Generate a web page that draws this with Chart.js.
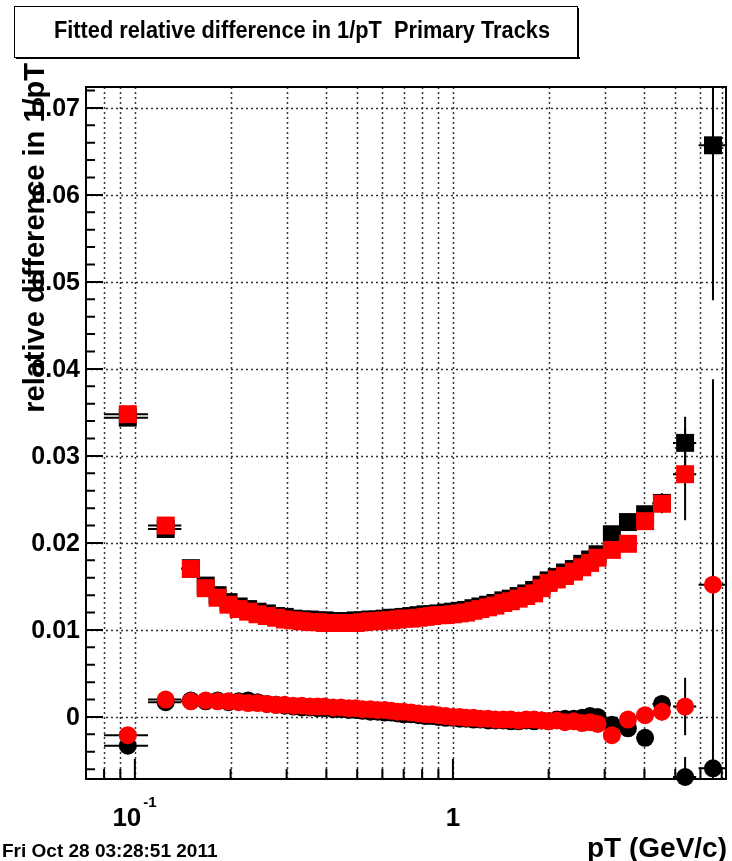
<!DOCTYPE html>
<html>
<head>
<meta charset="utf-8">
<title>Fitted relative difference in 1/pT</title>
<script src="https://cdn.jsdelivr.net/npm/chart.js@4.4.1/dist/chart.umd.min.js"></script>
<style>
    html, body { margin: 0; padding: 0; background: #fff; }
    #wrap { width: 732px; height: 861px; }
</style>
</head>
<body>
<div id="wrap"><canvas id="relDiffChart" width="732" height="861"></canvas></div>
<script>
// pT bin centres (GeV/c) and bin half widths
const ptBins = [
    0.095, 0.125, 0.15, 0.167, 0.182, 0.197, 0.212, 0.227, 0.243, 0.26,
    0.278, 0.296, 0.315, 0.335, 0.355, 0.375, 0.395, 0.42, 0.445, 0.47,
    0.495, 0.52, 0.55, 0.58, 0.61, 0.64, 0.67, 0.70, 0.74, 0.78,
    0.82, 0.86, 0.90, 0.95, 1.00, 1.05, 1.10, 1.16, 1.22, 1.29,
    1.36, 1.44, 1.52, 1.61, 1.70, 1.80, 1.90, 2.00, 2.12, 2.25,
    2.40, 2.55, 2.70, 2.85, 3.16, 3.55, 4.02, 4.54, 5.37, 6.57,
];
const ptHalfWidth = [
    0.015, 0.015, 0.01, 0.008, 0.0075, 0.0075, 0.0075, 0.0075, 0.0085, 0.009,
    0.009, 0.0095, 0.0095, 0.01, 0.01, 0.01, 0.0125, 0.0125, 0.0125, 0.0125,
    0.0125, 0.015, 0.015, 0.015, 0.015, 0.015, 0.015, 0.02, 0.02, 0.02,
    0.02, 0.02, 0.025, 0.025, 0.025, 0.025, 0.03, 0.03, 0.035, 0.035,
    0.04, 0.04, 0.045, 0.045, 0.05, 0.05, 0.05, 0.06, 0.065, 0.075,
    0.075, 0.075, 0.075, 0.1, 0.18, 0.2, 0.25, 0.3, 0.45, 0.65,
];

// fitted mean of the relative difference (squares)
const meanBlack = [
    0.0344, 0.0216, 0.0171, 0.0151, 0.0140, 0.0132, 0.0127, 0.0124, 0.0121, 0.0119,
    0.0116, 0.0115, 0.0113, 0.0112, 0.0112, 0.0111, 0.0111, 0.0110, 0.0110, 0.0110,
    0.0111, 0.0111, 0.0112, 0.0112, 0.0113, 0.0114, 0.0114, 0.0115, 0.0116, 0.0117,
    0.0118, 0.0118, 0.0119, 0.0120, 0.0121, 0.0122, 0.0123, 0.0125, 0.0127, 0.0129,
    0.0131, 0.0134, 0.0136, 0.0139, 0.0142, 0.0146, 0.0152, 0.0157, 0.0161, 0.0166,
    0.0170, 0.0176, 0.0181, 0.0187, 0.0210, 0.0224, 0.0233, 0.0246, 0.0315, 0.0657,
];
const meanBlackErr = [
    0.0003, 0.0002, 0.0002, 0.0001, 0.0001, 0.0001, 0.0001, 0.0001, 0.0001, 0.0001,
    0.0001, 0.0001, 0.0001, 0.0001, 0.0001, 0.0001, 0.0001, 0.0001, 0.0001, 0.0001,
    0.0001, 0.0001, 0.0001, 0.0001, 0.0001, 0.0001, 0.0001, 0.0001, 0.0001, 0.0001,
    0.0001, 0.0001, 0.0001, 0.0001, 0.0001, 0.0001, 0.0001, 0.0002, 0.0002, 0.0002,
    0.0002, 0.0002, 0.0002, 0.0002, 0.0003, 0.0003, 0.0003, 0.0003, 0.0004, 0.0004,
    0.0004, 0.0005, 0.0005, 0.0005, 0.0006, 0.0008, 0.0009, 0.0011, 0.0030, 0.0178,
];
const meanRed = [
    0.0348, 0.0220, 0.0170, 0.0148, 0.0137, 0.0129, 0.0124, 0.0121, 0.0118, 0.0116,
    0.0114, 0.0112, 0.0111, 0.0110, 0.0109, 0.0109, 0.0108, 0.0108, 0.0108, 0.0108,
    0.0108, 0.0109, 0.0110, 0.0110, 0.0111, 0.0111, 0.0112, 0.0113, 0.0113, 0.0114,
    0.0115, 0.0116, 0.0117, 0.0117, 0.0118, 0.0119, 0.0120, 0.0122, 0.0124, 0.0126,
    0.0128, 0.0131, 0.0133, 0.0136, 0.0139, 0.0142, 0.0148, 0.0154, 0.0158, 0.0162,
    0.0167, 0.0172, 0.0177, 0.0183, 0.0192, 0.0199, 0.0225, 0.0245, 0.0279, null,
];
const meanRedErr = [
    0.0003, 0.0002, 0.0002, 0.0001, 0.0001, 0.0001, 0.0001, 0.0001, 0.0001, 0.0001,
    0.0001, 0.0001, 0.0001, 0.0001, 0.0001, 0.0001, 0.0001, 0.0001, 0.0001, 0.0001,
    0.0001, 0.0001, 0.0001, 0.0001, 0.0001, 0.0001, 0.0001, 0.0001, 0.0001, 0.0001,
    0.0001, 0.0001, 0.0001, 0.0001, 0.0001, 0.0001, 0.0001, 0.0002, 0.0002, 0.0002,
    0.0002, 0.0002, 0.0002, 0.0002, 0.0003, 0.0003, 0.0003, 0.0003, 0.0004, 0.0004,
    0.0004, 0.0005, 0.0005, 0.0005, 0.0006, 0.0008, 0.0009, 0.0011, 0.0053, 0,
];

// fitted offset (circles)
const offsetBlack = [
    -0.0033, 0.0017, 0.0019, 0.0018, 0.0019, 0.0017, 0.0018, 0.0019, 0.0017, 0.0015,
    0.0014, 0.0013, 0.0012, 0.0011, 0.0011, 0.0010, 0.0010, 0.0009, 0.0009, 0.0008,
    0.0008, 0.0007, 0.0006, 0.0006, 0.0005, 0.0005, 0.0004, 0.0003, 0.0003, 0.0002,
    0.0001, 0.0001, 0.0000, -0.0001, -0.0001, -0.0002, -0.0002, -0.0003, -0.0003, -0.0004,
    -0.0004, -0.0004, -0.0005, -0.0005, -0.0004, -0.0005, -0.0004, -0.0005, -0.0003, -0.0002,
    -0.0002, -0.0001, 0.0001, 0.0000, -0.0009, -0.0013, -0.0024, 0.0015, -0.0069, -0.0059,
];
const offsetBlackErr = [
    0.0002, 0.0001, 0.0001, 0.0001, 0.0001, 0.0001, 0.0001, 0.0001, 0.0001, 0.0001,
    0.0001, 0.0001, 0.0001, 0.0001, 0.0001, 0.0001, 0.0001, 0.0001, 0.0001, 0.0001,
    0.0001, 0.0001, 0.0001, 0.0001, 0.0001, 0.0001, 0.0001, 0.0001, 0.0001, 0.0001,
    0.0001, 0.0001, 0.0001, 0.0001, 0.0001, 0.0001, 0.0001, 0.0001, 0.0001, 0.0001,
    0.0001, 0.0001, 0.0001, 0.0001, 0.0002, 0.0002, 0.0002, 0.0002, 0.0002, 0.0002,
    0.0002, 0.0003, 0.0003, 0.0003, 0.0004, 0.0005, 0.0008, 0.0010, 0.0023, 0.0012,
];
const offsetRed = [
    -0.0021, 0.0020, 0.0018, 0.0019, 0.0018, 0.0018, 0.0017, 0.0016, 0.0016, 0.0015,
    0.0014, 0.0014, 0.0013, 0.0013, 0.0012, 0.0012, 0.0012, 0.0011, 0.0011, 0.0010,
    0.0010, 0.0009, 0.0009, 0.0008, 0.0008, 0.0007, 0.0006, 0.0006, 0.0005, 0.0004,
    0.0003, 0.0003, 0.0002, 0.0001, 0.0000, 0.0000, -0.0001, -0.0001, -0.0002, -0.0002,
    -0.0003, -0.0003, -0.0003, -0.0004, -0.0003, -0.0003, -0.0004, -0.0005, -0.0004, -0.0006,
    -0.0005, -0.0007, -0.0006, -0.0008, -0.0021, -0.0003, 0.0002, 0.0006, 0.0012, 0.0152,
];
const offsetRedErr = [
    0.0002, 0.0001, 0.0001, 0.0001, 0.0001, 0.0001, 0.0001, 0.0001, 0.0001, 0.0001,
    0.0001, 0.0001, 0.0001, 0.0001, 0.0001, 0.0001, 0.0001, 0.0001, 0.0001, 0.0001,
    0.0001, 0.0001, 0.0001, 0.0001, 0.0001, 0.0001, 0.0001, 0.0001, 0.0001, 0.0001,
    0.0001, 0.0001, 0.0001, 0.0001, 0.0001, 0.0001, 0.0001, 0.0001, 0.0001, 0.0001,
    0.0001, 0.0001, 0.0001, 0.0001, 0.0002, 0.0002, 0.0002, 0.0002, 0.0002, 0.0002,
    0.0002, 0.0003, 0.0003, 0.0003, 0.0004, 0.0005, 0.0008, 0.0010, 0.0033, 0.0236,
];

// axis ticks and labels
const yMajorTicks = [0, 0.01, 0.02, 0.03, 0.04, 0.05, 0.06, 0.07];
const yTickLabels = ["0", "0.01", "0.02", "0.03", "0.04", "0.05", "0.06", "0.07"];
const yMinorTicks = [-0.006, -0.004, -0.002, 0.002, 0.004, 0.006, 0.008, 0.012, 0.014, 0.016, 0.018,
    0.022, 0.024, 0.026, 0.028, 0.032, 0.034, 0.036, 0.038, 0.042, 0.044, 0.046, 0.048,
    0.052, 0.054, 0.056, 0.058, 0.062, 0.064, 0.066, 0.068, 0.072];
const xMajorTicks = [0.1, 1];
const xTickLabels = ["10", "1"];
const xTickExponents = ["-1", ""];
const xMinorTicks = [0.08, 0.09, 0.2, 0.3, 0.4, 0.5, 0.6, 0.7, 0.8, 0.9, 2, 3, 4, 5, 6, 7];

const FONT = '"Liberation Sans", Arial, Helvetica, sans-serif';

function toPoints(values, errors) {
    const pts = [];
    ptBins.forEach((x, i) => {
        if (values[i] === null) return;
        pts.push({ x: x, y: values[i], ex: ptHalfWidth[i], ey: errors[i] });
    });
    return pts;
}

function series(label, values, errors, color, style, order) {
    const isRect = style === "rect";
    return {
        label: label,
        data: toPoints(values, errors),
        pointStyle: style,
        pointRadius: isRect ? 12.7 : 9,
        pointBackgroundColor: color,
        pointBorderWidth: 0,
        showLine: false,
        clip: false,
        order: order,
    };
}

// error bars, drawn under each dataset's markers
const errorBars = {
    id: "errorBars",
    beforeDatasetDraw(chart, args) {
        const { ctx, chartArea, scales } = chart;
        const dataset = chart.data.datasets[args.index];
        ctx.save();
        ctx.beginPath();
        ctx.rect(chartArea.left, chartArea.top, chartArea.width, chartArea.height);
        ctx.clip();
        ctx.strokeStyle = "#000";
        ctx.lineWidth = 2;
        ctx.beginPath();
        for (const p of dataset.data) {
            const px = scales.x.getPixelForValue(p.x);
            const py = scales.y.getPixelForValue(p.y);
            const xl = scales.x.getPixelForValue(p.x - p.ex);
            const xr = scales.x.getPixelForValue(p.x + p.ex);
            const yt = scales.y.getPixelForValue(p.y + p.ey);
            const yb = scales.y.getPixelForValue(p.y - p.ey);
            ctx.moveTo(xl, py);
            ctx.lineTo(xr, py);
            ctx.moveTo(px, yt);
            ctx.lineTo(px, yb);
        }
        ctx.stroke();
        ctx.restore();
    },
};

// dotted grid, frame, ticks and all the text around the pad
const padDecor = {
    id: "padDecor",
    beforeDatasetsDraw(chart) {
        const { ctx, chartArea: a, scales } = chart;
        ctx.save();
        ctx.strokeStyle = "#333";
        ctx.lineWidth = 1.5;
        ctx.setLineDash([2, 3]);
        ctx.beginPath();
        for (const v of xMajorTicks.concat(xMinorTicks)) {
            const x = Math.round(scales.x.getPixelForValue(v)) + 0.5;
            ctx.moveTo(x, a.top);
            ctx.lineTo(x, a.bottom);
        }
        for (const v of yMajorTicks) {
            const y = Math.round(scales.y.getPixelForValue(v)) + 0.5;
            ctx.moveTo(a.left, y);
            ctx.lineTo(a.right, y);
        }
        ctx.stroke();
        ctx.restore();
    },
    afterDraw(chart) {
        const { ctx, chartArea: a, scales } = chart;
        ctx.save();
        ctx.strokeStyle = "#000";
        ctx.fillStyle = "#000";

        // frame
        ctx.lineWidth = 2;
        ctx.strokeRect(a.left, a.top, a.width, a.height);

        // ticks
        ctx.beginPath();
        for (const v of yMajorTicks) {
            const y = scales.y.getPixelForValue(v);
            ctx.moveTo(a.left, y);
            ctx.lineTo(a.left + 17, y);
        }
        for (const v of yMinorTicks) {
            const y = scales.y.getPixelForValue(v);
            ctx.moveTo(a.left, y);
            ctx.lineTo(a.left + 9, y);
        }
        for (const v of xMajorTicks) {
            const x = scales.x.getPixelForValue(v);
            ctx.moveTo(x, a.bottom);
            ctx.lineTo(x, a.bottom - 20);
        }
        for (const v of xMinorTicks) {
            const x = scales.x.getPixelForValue(v);
            ctx.moveTo(x, a.bottom);
            ctx.lineTo(x, a.bottom - 10);
        }
        ctx.stroke();

        // y tick labels
        ctx.font = "bold 25px " + FONT;
        ctx.textAlign = "right";
        ctx.textBaseline = "middle";
        yMajorTicks.forEach((v, i) => {
            ctx.fillText(yTickLabels[i], a.left - 6, scales.y.getPixelForValue(v) + 1);
        });

        // x tick labels, with exponent
        ctx.textBaseline = "alphabetic";
        xMajorTicks.forEach((v, i) => {
            const x = scales.x.getPixelForValue(v);
            ctx.font = "bold 26px " + FONT;
            ctx.textAlign = "center";
            const cx = xTickExponents[i] ? x - 8 : x;
            ctx.fillText(xTickLabels[i], cx, 826);
            if (xTickExponents[i]) {
                const w = ctx.measureText(xTickLabels[i]).width;
                ctx.font = "bold 15px " + FONT;
                ctx.textAlign = "left";
                ctx.fillText(xTickExponents[i], cx + w / 2 + 2, 807);
            }
        });

        // axis titles
        ctx.font = "bold 28px " + FONT;
        ctx.textAlign = "right";
        ctx.fillText("pT (GeV/c)", 727, 857, 142);

        ctx.save();
        ctx.translate(44, 63);
        ctx.rotate(-Math.PI / 2);
        ctx.font = "bold 29px " + FONT;
        ctx.textAlign = "right";
        ctx.fillText("relative difference in 1/pT", 0, 0, 352);
        ctx.restore();

        // title box with shadow
        ctx.fillStyle = "#fff";
        ctx.fillRect(14, 6, 564, 52);
        ctx.fillStyle = "#000";
        ctx.fillRect(16, 57, 564, 2);
        ctx.fillRect(577, 8, 2, 51);
        ctx.lineWidth = 1;
        ctx.strokeRect(14.5, 6.5, 563, 51);
        ctx.font = "bold 23px " + FONT;
        ctx.textAlign = "center";
        ctx.textBaseline = "middle";
        ctx.fillText("Fitted relative difference in 1/pT  Primary Tracks", 302, 32, 496);

        // date stamp
        ctx.font = "bold 19px " + FONT;
        ctx.textAlign = "left";
        ctx.textBaseline = "alphabetic";
        ctx.fillText("Fri Oct 28 03:28:51 2011", 2, 857, 223);
        ctx.restore();
    },
};

const ctx = document.getElementById("relDiffChart").getContext("2d");
new Chart(ctx, {
    type: "scatter",
    data: {
        datasets: [
            series("offset, red", offsetRed, offsetRedErr, "#ff0000", "circle", 0),
            series("offset, black", offsetBlack, offsetBlackErr, "#000000", "circle", 1),
            series("mean, red", meanRed, meanRedErr, "#ff0000", "rect", 2),
            series("mean, black", meanBlack, meanBlackErr, "#000000", "rect", 3),
        ],
    },
    options: {
        responsive: false,
        animation: false,
        devicePixelRatio: 1,
        layout: {
            autoPadding: false,
            padding: { left: 86, right: 6, top: 87, bottom: 82 },
        },
        scales: {
            x: { type: "logarithmic", min: 0.0702, max: 7.22, display: false },
            y: { type: "linear", min: -0.00713, max: 0.0724, display: false },
        },
        plugins: {
            legend: { display: false },
            tooltip: { enabled: false },
        },
        events: [],
    },
    plugins: [errorBars, padDecor],
});
</script>
</body>
</html>
